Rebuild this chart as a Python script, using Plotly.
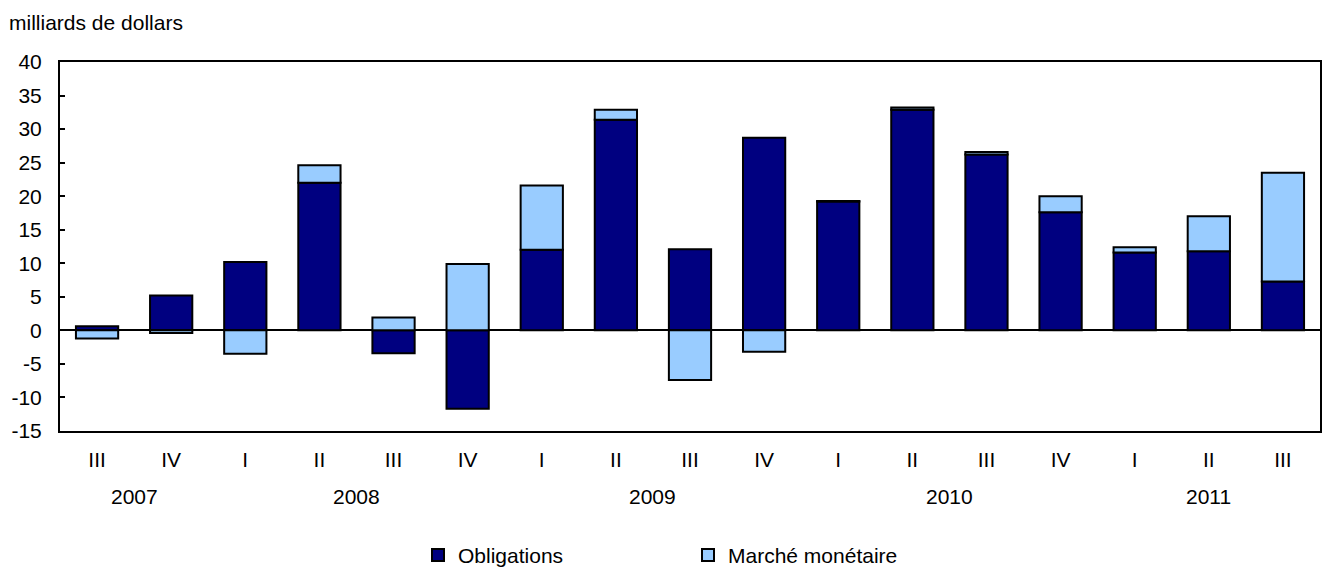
import plotly.graph_objects as go

quarters = ["III", "IV", "I", "II", "III", "IV", "I", "II", "III", "IV",
            "I", "II", "III", "IV", "I", "II", "III"]
years = ["2007", "2008", "2009", "2010", "2011"]
year_spans = [(0, 1), (2, 5), (6, 9), (10, 13), (14, 16)]
y_tick_values = [-15, -10, -5, 0, 5, 10, 15, 20, 25, 30, 35, 40]
y_tick_labels = ["-15", "-10", "-5", "0", "5", "10", "15", "20", "25", "30", "35", "40"]
obligations = [0.6, 5.2, 10.2, 22.0, -3.4, -11.7, 12.0, 31.4, 12.1, 28.7,
               19.2, 32.9, 26.2, 17.6, 11.6, 11.8, 7.3]
marche_monetaire = [-1.2, -0.4, -3.5, 2.6, 1.9, 9.9, 9.6, 1.5, -7.4, -3.2,
                    0.1, 0.3, 0.4, 2.4, 0.8, 5.2, 16.2]

x = list(range(len(quarters)))
FS = 21

fig = go.Figure()
fig.add_trace(go.Bar(x=x, y=obligations, name="Obligations",
                     marker=dict(color="#000080", line=dict(color="black", width=2))))
fig.add_trace(go.Bar(x=x, y=marche_monetaire, name="Marché monétaire",
                     marker=dict(color="#99CCFF", line=dict(color="black", width=2))))

annotations = [dict(text="milliards de dollars", x=0, y=1, xref="paper", yref="paper",
                    xanchor="left", yanchor="middle", showarrow=False, xshift=-53, yshift=40,
                    font=dict(size=FS, color="black"))]
for yr, (a, b) in zip(years, year_spans):
    annotations.append(dict(text=yr, x=(a + b) / 2, y=0, xref="x", yref="paper",
                            yanchor="middle", showarrow=False, yshift=-65,
                            font=dict(size=FS, color="black")))

fig.update_layout(
    barmode="relative",
    bargap=0.43,
    width=1322, height=569,
    margin=dict(l=60, r=2, t=62, b=138),
    plot_bgcolor="white", paper_bgcolor="white",
    font=dict(family="Liberation Sans, Arial, sans-serif", size=FS, color="black"),
    xaxis=dict(tickmode="array", tickvals=x, ticktext=quarters, range=[-0.5, 16.5],
               showline=True, linecolor="black", linewidth=2, mirror=True,
               ticks="", showgrid=False, zeroline=False, ticklabelstandoff=9,
               automargin=False),
    yaxis=dict(range=[-15, 40], tickmode="array", tickvals=y_tick_values,
               ticktext=y_tick_labels, showline=True, linecolor="black", linewidth=2,
               mirror=True, ticks="inside", ticklen=5, tickwidth=1.5, tickcolor="black",
               showgrid=False, zeroline=True, zerolinecolor="black", zerolinewidth=2,
               ticklabelstandoff=12, automargin=False),
    legend=dict(orientation="h", x=688 / 1322, xanchor="center", xref="container",
                y=0.024, yanchor="middle", yref="container",
                font=dict(size=FS), itemwidth=30, entrywidth=225, traceorder="normal"),
    annotations=annotations,
)

fig.write_html("out.html", config={"displayModeBar": False},
               post_script="document.body.style.margin='0';")
